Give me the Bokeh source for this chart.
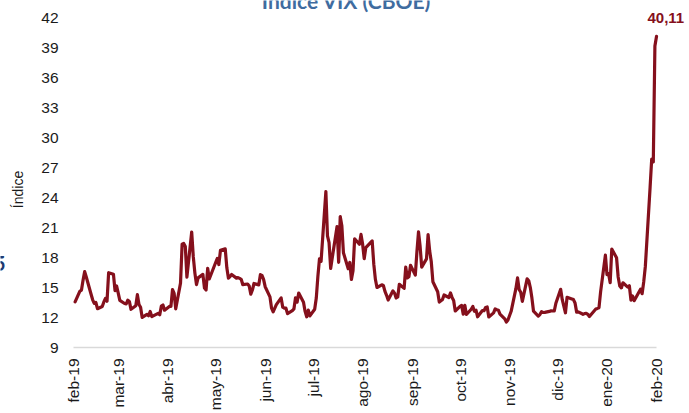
import pandas as pd
from math import pi
from bokeh.plotting import figure
from bokeh.models import Label, Range1d, ColumnDataSource
from bokeh.core.properties import value
from bokeh.embed import file_html
from bokeh.resources import INLINE

# ---------------- data (VIX daily close) ----------------
trade_dates = [
    # mar-2019
    "2019-03-01", "2019-03-04", "2019-03-05", "2019-03-06", "2019-03-07", "2019-03-08",
    "2019-03-11", "2019-03-12", "2019-03-13", "2019-03-14", "2019-03-15", "2019-03-18",
    "2019-03-19", "2019-03-20", "2019-03-21", "2019-03-22", "2019-03-25", "2019-03-26",
    "2019-03-27", "2019-03-28", "2019-03-29",
    # apr-2019
    "2019-04-01", "2019-04-02", "2019-04-03", "2019-04-04", "2019-04-05", "2019-04-08",
    "2019-04-09", "2019-04-10", "2019-04-11", "2019-04-12", "2019-04-15", "2019-04-16",
    "2019-04-17", "2019-04-18", "2019-04-22", "2019-04-23", "2019-04-24", "2019-04-25",
    "2019-04-26", "2019-04-29", "2019-04-30",
    # may-2019
    "2019-05-01", "2019-05-02", "2019-05-03", "2019-05-06", "2019-05-07", "2019-05-08",
    "2019-05-09", "2019-05-10", "2019-05-13", "2019-05-14", "2019-05-15", "2019-05-16",
    "2019-05-17", "2019-05-20", "2019-05-21", "2019-05-22", "2019-05-23", "2019-05-24",
    "2019-05-28", "2019-05-29", "2019-05-30", "2019-05-31",
    # jun-2019
    "2019-06-03", "2019-06-04", "2019-06-05", "2019-06-06", "2019-06-07", "2019-06-10",
    "2019-06-11", "2019-06-12", "2019-06-13", "2019-06-14", "2019-06-17", "2019-06-18",
    "2019-06-19", "2019-06-20", "2019-06-21", "2019-06-24", "2019-06-25", "2019-06-26",
    "2019-06-27", "2019-06-28",
    # jul-2019
    "2019-07-01", "2019-07-02", "2019-07-03", "2019-07-05", "2019-07-08", "2019-07-09",
    "2019-07-10", "2019-07-11", "2019-07-12", "2019-07-15", "2019-07-16", "2019-07-17",
    "2019-07-18", "2019-07-19", "2019-07-22", "2019-07-23", "2019-07-24", "2019-07-25",
    "2019-07-26", "2019-07-29", "2019-07-30", "2019-07-31",
    # aug-2019
    "2019-08-01", "2019-08-02", "2019-08-05", "2019-08-06", "2019-08-07", "2019-08-08",
    "2019-08-09", "2019-08-12", "2019-08-13", "2019-08-14", "2019-08-15", "2019-08-16",
    "2019-08-19", "2019-08-20", "2019-08-21", "2019-08-22", "2019-08-23", "2019-08-26",
    "2019-08-27", "2019-08-28", "2019-08-29", "2019-08-30",
    # sep-2019
    "2019-09-03", "2019-09-04", "2019-09-05", "2019-09-06", "2019-09-09", "2019-09-10",
    "2019-09-11", "2019-09-12", "2019-09-13", "2019-09-16", "2019-09-17", "2019-09-18",
    "2019-09-19", "2019-09-20", "2019-09-23", "2019-09-24", "2019-09-25", "2019-09-26",
    "2019-09-27", "2019-09-30",
    # oct-2019
    "2019-10-01", "2019-10-02", "2019-10-03", "2019-10-04", "2019-10-07", "2019-10-08",
    "2019-10-09", "2019-10-10", "2019-10-11", "2019-10-14", "2019-10-15", "2019-10-16",
    "2019-10-17", "2019-10-18", "2019-10-21", "2019-10-22", "2019-10-23", "2019-10-24",
    "2019-10-25", "2019-10-28", "2019-10-29", "2019-10-30", "2019-10-31",
    # nov-2019
    "2019-11-01", "2019-11-04", "2019-11-05", "2019-11-06", "2019-11-07", "2019-11-08",
    "2019-11-11", "2019-11-12", "2019-11-13", "2019-11-14", "2019-11-15", "2019-11-18",
    "2019-11-19", "2019-11-20", "2019-11-21", "2019-11-22", "2019-11-25", "2019-11-26",
    "2019-11-27", "2019-11-29",
    # dec-2019
    "2019-12-02", "2019-12-03", "2019-12-04", "2019-12-05", "2019-12-06", "2019-12-09",
    "2019-12-10", "2019-12-11", "2019-12-12", "2019-12-13", "2019-12-16", "2019-12-17",
    "2019-12-18", "2019-12-19", "2019-12-20", "2019-12-23", "2019-12-24", "2019-12-26",
    "2019-12-27", "2019-12-30", "2019-12-31",
    # jan-2020
    "2020-01-02", "2020-01-03", "2020-01-06", "2020-01-07", "2020-01-08", "2020-01-09",
    "2020-01-10", "2020-01-13", "2020-01-14", "2020-01-15", "2020-01-16", "2020-01-17",
    "2020-01-21", "2020-01-22", "2020-01-23", "2020-01-24", "2020-01-27", "2020-01-28",
    "2020-01-29", "2020-01-30", "2020-01-31",
    # feb-2020
    "2020-02-03", "2020-02-04", "2020-02-05", "2020-02-06", "2020-02-07", "2020-02-10",
    "2020-02-11", "2020-02-12", "2020-02-13", "2020-02-14", "2020-02-18", "2020-02-19",
    "2020-02-20", "2020-02-21", "2020-02-24", "2020-02-25", "2020-02-26", "2020-02-27",
    "2020-02-28",
]

vix_close = [
    # mar-2019
    13.57, 14.63, 14.74, 15.74, 16.59, 16.05, 14.33, 13.77, 13.41, 13.50, 12.88, 13.10,
    13.56, 13.91, 13.63, 16.48, 16.33, 14.68, 15.15, 14.43, 13.71,
    # apr-2019
    13.40, 13.36, 13.74, 13.58, 12.82, 13.18, 14.28, 13.30, 13.02, 12.01, 12.32, 12.18,
    12.60, 12.09, 12.42, 12.28, 13.14, 13.25, 12.73, 13.11, 13.12,
    # may-2019
    14.80, 14.42, 12.87, 15.44, 19.32, 19.40, 19.10, 16.04, 20.55, 18.06, 16.44, 15.29,
    15.96, 16.31, 14.95, 14.75, 16.92, 15.85, 17.50, 17.90, 17.30, 18.71,
    # jun-2019
    18.86, 16.97, 15.93, 16.09, 16.30, 15.94, 15.99, 15.91, 15.82, 15.28, 15.35, 15.15,
    14.33, 14.75, 15.40, 15.26, 16.28, 16.21, 15.82, 15.08,
    # jul-2019
    14.06, 12.93, 12.57, 13.28, 13.96, 13.03, 12.93, 12.93, 12.39, 12.68, 12.86, 13.97,
    13.53, 14.45, 13.53, 12.61, 12.07, 12.74, 12.16, 12.83, 13.94, 16.12,
    # aug-2019
    17.87, 17.61, 24.59, 20.17, 19.49, 16.91, 17.97, 21.09, 17.52, 22.10, 21.18, 18.47,
    16.88, 17.50, 15.80, 16.68, 19.87, 19.32, 20.31, 19.35, 17.88, 18.98,
    # sep-2019
    19.66, 17.33, 15.82, 15.00, 15.27, 15.20, 14.61, 14.22, 13.74, 14.67, 14.44, 13.95,
    14.05, 15.32, 14.91, 17.05, 15.96, 16.07, 17.22, 16.24,
    # oct-2019
    18.56, 20.56, 19.12, 17.04, 17.86, 20.28, 18.64, 17.57, 15.58, 14.57, 13.54, 13.68,
    13.79, 14.25, 14.00, 14.46, 14.01, 13.71, 12.65, 13.11, 13.20, 12.33, 13.22,
    # nov-2019
    12.30, 12.83, 13.10, 12.62, 12.73, 12.07, 12.69, 12.68, 13.00, 13.05, 12.05, 12.46,
    12.86, 12.78, 12.73, 12.34, 11.87, 11.54, 11.75, 12.62,
    # dec-2019
    14.91, 15.96, 14.80, 14.52, 13.62, 15.86, 15.68, 14.99, 13.94, 12.63, 12.14, 12.29,
    12.58, 12.50, 12.51, 12.61, 12.67, 12.65, 13.43, 14.82, 13.78,
    # jan-2020
    12.47, 14.02, 13.85, 13.79, 13.45, 12.54, 12.56, 12.32, 12.39, 12.42, 12.32, 12.10,
    12.85, 12.91, 12.98, 14.56, 18.23, 16.28, 16.39, 15.49, 18.84,
    # feb-2020
    17.97, 16.05, 15.15, 14.96, 15.47, 15.04, 15.18, 13.74, 14.15, 13.68, 14.83, 14.38,
    15.56, 17.08, 25.03, 27.85, 27.56, 39.16, 40.11,
]

tick_dates = [
    "2019-02-28", "2019-03-28", "2019-04-28", "2019-05-28", "2019-06-28", "2019-07-28",
    "2019-08-28", "2019-09-28", "2019-10-28", "2019-11-28", "2019-12-28", "2020-01-28",
    "2020-02-28",
]
tick_labels = ["feb-19", "mar-19", "abr-19", "may-19", "jun-19", "jul-19", "ago-19",
               "sep-19", "oct-19", "nov-19", "dic-19", "ene-20", "feb-20"]
y_ticks = [9, 12, 15, 18, 21, 24, 27, 30, 33, 36, 39, 42]

title_text = "Índice VIX (CBOE)"
y_title = "Índice"
last_label = "40,11"
edge_fragment = "5"   # cut-off text at the left edge of the reference

# ---------------- build ----------------
base = pd.Timestamp(tick_dates[0])
x_days = [(pd.Timestamp(d) - base).days for d in trade_dates]
t_days = [(pd.Timestamp(d) - base).days for d in tick_dates]

FONT = "Liberation Sans"
LINE_COLOR = "#85101C"
TEXT_COLOR = "#1a1a1a"
W, H = 689, 413

# Layout: the data frame covers the whole canvas; the axis spans 73..656 px
# horizontally (feb-19 .. feb-20) and 9 sits at 347 px, 10 px per index point.
AX_LEFT, AX_RIGHT = 73.0, 656.0
px_per_day = (AX_RIGHT - AX_LEFT) / (t_days[-1] - t_days[0])
x_start = t_days[0] - AX_LEFT / px_per_day
x_end = t_days[0] + (W - AX_LEFT) / px_per_day
y_top = 43.7
y_bottom = y_top - H / 10.0

def day_at(px):
    return t_days[0] + (px - AX_LEFT) / px_per_day

def val_at(py):
    return y_top - py / 10.0

p = figure(width=W, height=H, output_backend="svg", toolbar_location=None,
           x_range=Range1d(x_start, x_end), y_range=Range1d(y_bottom, y_top),
           min_border=0, background_fill_color="white",
           border_fill_color="white", outline_line_color=None)
p.xaxis.visible = False
p.yaxis.visible = False
p.xgrid.visible = False
p.ygrid.visible = False

# horizontal axis baseline (light grey) from the first to the last tick
p.segment(x0=[t_days[0]], y0=[y_ticks[0]], x1=[t_days[-1]], y1=[y_ticks[0]],
          line_color="#D9D9D9", line_width=1.6)

# series
src = ColumnDataSource(data=dict(x=x_days, y=vix_close))
p.line("x", "y", source=src, line_color=LINE_COLOR, line_width=3.2,
       line_join="round", line_cap="round")

# y tick labels
ysrc = ColumnDataSource(data=dict(x=[day_at(58)] * len(y_ticks), y=y_ticks,
                                  t=[str(v) for v in y_ticks]))
p.text("x", "y", text="t", source=ysrc, text_align="right", text_baseline="middle",
       text_font=value(FONT), text_font_size="15.5px", text_color=TEXT_COLOR)

# x tick labels (rotated, reading upwards)
xsrc = ColumnDataSource(data=dict(x=t_days, y=[val_at(358)] * len(t_days),
                                  t=tick_labels))
p.text("x", "y", text="t", source=xsrc, angle=pi / 2, text_align="right",
       text_baseline="middle", text_font=value(FONT), text_font_size="15.5px",
       text_color=TEXT_COLOR)

# y axis title
p.add_layout(Label(x=day_at(17.5), y=val_at(189), text=y_title, angle=pi / 2,
                   text_align="center", text_baseline="middle", text_font=FONT,
                   text_font_size="14px", text_color=TEXT_COLOR))

# chart title (partially cut at the top, as in the reference)
p.add_layout(Label(x=day_at(346), y=y_top, text=title_text, text_align="center",
                   text_baseline="alphabetic", text_font="Lato",
                   text_font_style="bold", text_font_size="21px",
                   text_color="#3F6CA0"))

# cut-off fragment at the left edge
p.add_layout(Label(x=day_at(5), y=val_at(263), text=edge_fragment,
                   text_align="right", text_baseline="middle", text_font="Lato",
                   text_font_style="bold", text_font_size="20px",
                   text_color="#1F3A70"))

# last value annotation
p.add_layout(Label(x=x_days[-1], y=42, x_offset=-9, text=last_label,
                   text_align="left", text_baseline="middle", text_font=FONT,
                   text_font_style="bold", text_font_size="15px",
                   text_color=LINE_COLOR))

open("out.html", "w").write(file_html(p, INLINE))
